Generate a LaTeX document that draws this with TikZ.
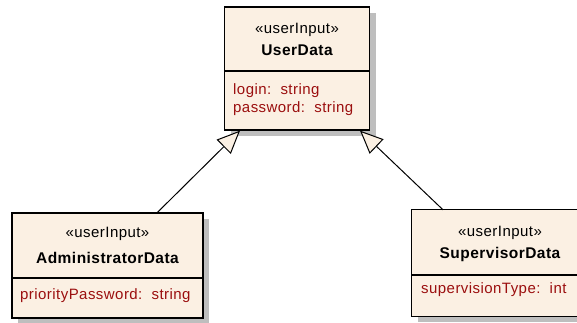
\documentclass[tikz,border=0pt]{standalone}
\usepackage{fontspec}
\setmainfont[LetterSpace=3]{Liberation Sans}
\usetikzlibrary{arrows.meta}
\definecolor{cream}{RGB}{251,240,227}
\definecolor{attrred}{RGB}{155,15,15}
\definecolor{shadowgray}{RGB}{190,190,190}
\tikzset{
  umlbox/.style={draw=black, line width=1.3pt, fill=cream, rectangle, inner sep=0pt},
  stereo/.style={font=\fontsize{15}{17}\selectfont, inner sep=0pt, anchor=base},
  cname/.style={font=\fontsize{15.5}{17}\selectfont\bfseries, inner sep=0pt, anchor=base},
  attr/.style={font=\fontsize{15}{17}\selectfont, text=attrred, inner sep=0pt, anchor=base west},
  divider/.style={line width=1.1pt},
  edge/.style={line width=1.3pt},
  gen/.style={line width=1pt, -{Triangle[length=23pt, width=20pt, fill=cream, line width=1pt]}},
}
\begin{document}
\begin{tikzpicture}[x=1pt,y=-1pt]
\useasboundingbox (0,0) rectangle (577,322);
\clip (0,0) rectangle (577,322);
% shadows
\fill[shadowgray] (230.5,13) rectangle (375.5,136);
\fill[shadowgray] (18,219) rectangle (209,324);
\fill[shadowgray] (418,216) rectangle (608,322);
% boxes
\node[umlbox, minimum width=145, minimum height=123] (user) at (297,68.5) {};
\node[umlbox, minimum width=191, minimum height=105] (admin) at (107.5,265.5) {};
\node[fill=cream, rectangle, inner sep=0pt, minimum width=190, minimum height=106] (super) at (507,263) {};
\draw[edge] (super.north east) -- (super.north west) -- (super.south west) -- (super.south east);
% dividers
\draw[divider] (user.west |- 0,71) -- (user.east |- 0,71);
\draw[divider] (admin.west |- 0,278) -- (admin.east |- 0,278);
\draw[divider] (super.west |- 0,275) -- (super.east |- 0,275);
% UserData text
\node[stereo] (us) at (297,33) {«userInput»};
\node[cname] (un) at (297,55) {UserData};
\node[attr] (ua1) at (233,94) {login:\ \ string};
\node[attr] (ua2) at (233,112) {password:\ \ string};
% AdministratorData text
\node[stereo] (as) at (107.5,237) {«userInput»};
\node[cname] (an) at (107.5,263) {AdministratorData};
\node[attr] (aa1) at (20,299) {priorityPassword:\ \ string};
% SupervisorData text
\node[stereo] (ss) at (500,236) {«userInput»};
\node[cname] (sn) at (500,258) {SupervisorData};
\node[attr] (sa1) at (421,293) {supervisionType:\ \ int};
% generalizations
\draw[gen] ([xshift=50]admin.north) -- ([xshift=-57]user.south);
\draw[gen] ([xshift=-64]super.north) -- ([xshift=63]user.south);
\end{tikzpicture}
\end{document}
